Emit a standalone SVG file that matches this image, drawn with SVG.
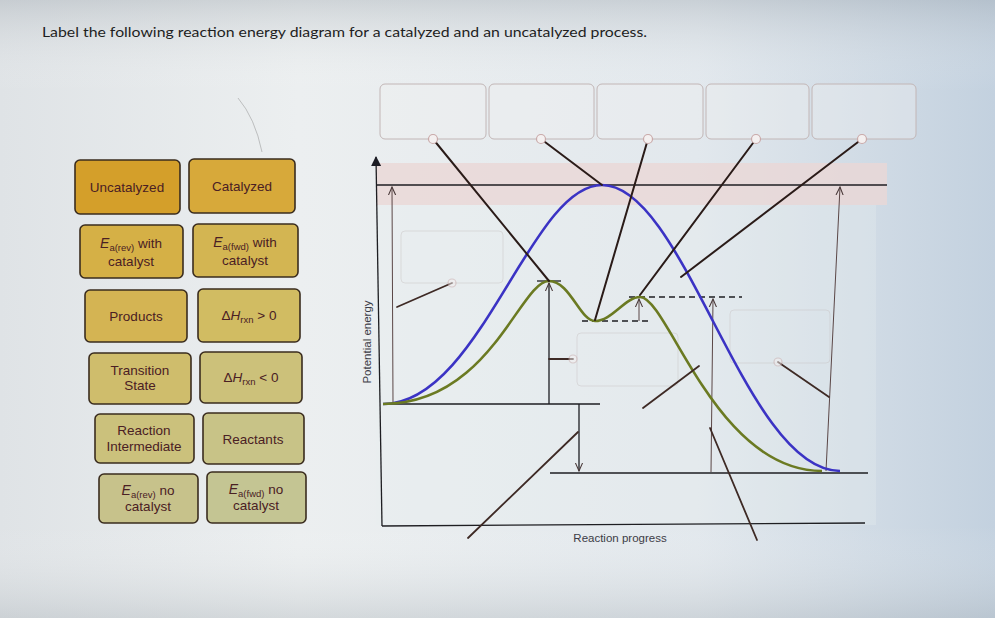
<svg xmlns="http://www.w3.org/2000/svg" width="995" height="618" viewBox="0 0 995 618">
<defs>
<linearGradient id="bg" x1="0" y1="0" x2="1" y2="0">
<stop offset="0" stop-color="#dfe3e6"/>
<stop offset="0.3" stop-color="#eceff0"/>
<stop offset="0.7" stop-color="#e2e8ed"/>
<stop offset="1" stop-color="#c3d1df"/>
</linearGradient>
<linearGradient id="bgv" x1="0" y1="0" x2="0" y2="1">
<stop offset="0" stop-color="#9aa3ab" stop-opacity="0.35"/>
<stop offset="0.15" stop-color="#ffffff" stop-opacity="0"/>
<stop offset="0.85" stop-color="#ffffff" stop-opacity="0"/>
<stop offset="1" stop-color="#a8b0b6" stop-opacity="0.35"/>
</linearGradient>
<marker id="open" viewBox="0 0 10 10" refX="9" refY="5" markerWidth="9" markerHeight="9" markerUnits="userSpaceOnUse" orient="auto">
<path d="M0,1 L9,5 L0,9" fill="none" stroke="#4a3a3a" stroke-width="1.2"/>
</marker>
<marker id="solid" viewBox="0 0 10 10" refX="9" refY="5" markerWidth="14" markerHeight="10" markerUnits="userSpaceOnUse" orient="auto">
<path d="M0,0 L10,5 L0,10 Z" fill="#1c1c24"/>
</marker>
<style>
.tile{stroke:#3a2c1e;stroke-width:1.6}
.tt{font-family:"Liberation Sans",Arial,sans-serif;font-size:13.5px;fill:#4a2024;text-anchor:middle}
.drop{fill:#f2f0f0;fill-opacity:0.35;stroke:#c2b6b6;stroke-width:1}
.faint{fill:none;stroke:#c9c3c3;stroke-width:0.8;stroke-opacity:0.6}
.con{stroke:#2a1b18;stroke-width:2;fill:none;stroke-linecap:round}
.con2{stroke:#3e2a25;stroke-width:1.8;fill:none;stroke-linecap:round}
.dot{fill:#f4f0f0;stroke:#c9a9a9;stroke-width:1.2}
.ln{stroke:#1e1e22;stroke-width:1.3;fill:none}
.thin{stroke:#5a4646;stroke-width:1;fill:none}
.dash{stroke:#1e1e22;stroke-width:1.3;stroke-dasharray:6 4;fill:none}
.lab{font-family:"Liberation Sans",Arial,sans-serif;font-size:11.5px;fill:#3c3c46}
</style>
</defs>
<rect width="995" height="618" fill="url(#bg)"/>
<rect width="995" height="618" fill="url(#bgv)"/>
<path d="M238,98 Q255,118 262,152" fill="none" stroke="#8a8a8a" stroke-width="0.8" stroke-opacity="0.6"/>
<text x="42" y="37" font-family="Lato, 'Open Sans', sans-serif" font-size="14" fill="#1e1e1e" textLength="605" lengthAdjust="spacingAndGlyphs">Label the following reaction energy diagram for a catalyzed and an uncatalyzed process.</text>

<g id="tiles">
<g id="t-uncat"><rect class="tile" x="75" y="160" width="105" height="54" rx="5" fill="#d49f2a"/><text class="tt" x="127" y="192">Uncatalyzed</text></g>
<g id="t-cat"><rect class="tile" x="189" y="159" width="106" height="54" rx="5" fill="#d7a93a"/><text class="tt" x="242" y="191">Catalyzed</text></g>
<g id="t-earevcat"><rect class="tile" x="80" y="225" width="103" height="53" rx="5" fill="#d5b046"/><text class="tt" x="131" y="248"><tspan font-style="italic" font-size="14">E</tspan><tspan font-size="9.5" dy="3">a(rev)</tspan><tspan dy="-3"> with</tspan></text><text class="tt" x="131" y="266">catalyst</text></g>
<g id="t-eafwdcat"><rect class="tile" x="193" y="224" width="105" height="53" rx="5" fill="#d3b552"/><text class="tt" x="245" y="247"><tspan font-style="italic" font-size="14">E</tspan><tspan font-size="9.5" dy="3">a(fwd)</tspan><tspan dy="-3"> with</tspan></text><text class="tt" x="245" y="265">catalyst</text></g>
<g id="t-products"><rect class="tile" x="85" y="290" width="102" height="52" rx="5" fill="#d4b453"/><text class="tt" x="136" y="321">Products</text></g>
<g id="t-dhpos"><rect class="tile" x="198" y="289" width="102" height="53" rx="5" fill="#d1bc62"/><text class="tt" x="249" y="320">Δ<tspan font-style="italic">H</tspan><tspan font-size="9.5" dy="3">rxn</tspan><tspan dy="-3"> &gt; 0</tspan></text></g>
<g id="t-ts"><rect class="tile" x="89" y="353" width="102" height="51" rx="5" fill="#cfbd6c"/><text class="tt" x="140" y="375">Transition</text><text class="tt" x="140" y="390">State</text></g>
<g id="t-dhneg"><rect class="tile" x="200" y="352" width="102" height="51" rx="5" fill="#ccc17a"/><text class="tt" x="251" y="382">Δ<tspan font-style="italic">H</tspan><tspan font-size="9.5" dy="3">rxn</tspan><tspan dy="-3"> &lt; 0</tspan></text></g>
<g id="t-ri"><rect class="tile" x="95" y="414" width="99" height="49" rx="5" fill="#cbc17c"/><text class="tt" x="144" y="435">Reaction</text><text class="tt" x="144" y="451">Intermediate</text></g>
<g id="t-react"><rect class="tile" x="203" y="413" width="101" height="51" rx="5" fill="#c8c387"/><text class="tt" x="253" y="444">Reactants</text></g>
<g id="t-earevno"><rect class="tile" x="99" y="474" width="99" height="49" rx="5" fill="#c7c28b"/><text class="tt" x="148" y="495"><tspan font-style="italic" font-size="14">E</tspan><tspan font-size="9.5" dy="3">a(rev)</tspan><tspan dy="-3"> no</tspan></text><text class="tt" x="148" y="511">catalyst</text></g>
<g id="t-eafwdno"><rect class="tile" x="207" y="472" width="99" height="51" rx="5" fill="#c4c593"/><text class="tt" x="256" y="494"><tspan font-style="italic" font-size="14">E</tspan><tspan font-size="9.5" dy="3">a(fwd)</tspan><tspan dy="-3"> no</tspan></text><text class="tt" x="256" y="510">catalyst</text></g>
</g>

<g id="chart-bg">
<rect x="376" y="163" width="511" height="42" fill="#ead7d6" fill-opacity="0.8"/>
<rect x="376" y="205" width="500" height="320" fill="#e9eef0" fill-opacity="0.3"/>
</g>

<g id="dropzones">
<rect class="drop" x="380" y="84" width="106" height="55" rx="5"/>
<rect class="drop" x="489" y="84" width="105" height="55" rx="5"/>
<rect class="drop" x="597" y="84" width="106" height="55" rx="5"/>
<rect class="drop" x="706" y="84" width="103" height="55" rx="5"/>
<rect class="drop" x="812" y="84" width="104" height="55" rx="5"/>
<rect class="faint" x="401" y="231" width="102" height="52" rx="4"/>
<rect class="faint" x="577" y="333" width="101" height="53" rx="4"/>
<rect class="faint" x="730" y="310" width="100" height="53" rx="4"/>
</g>

<g id="axes">
<path class="ln" d="M382,526 L376,157" marker-end="url(#solid)" stroke-width="1.6"/>
<path class="ln" d="M382,526 L865,523" stroke-width="1.4"/>
<text class="lab" transform="translate(371,342) rotate(-90)" text-anchor="middle">Potential energy</text>
<text class="lab" x="620" y="542" text-anchor="middle">Reaction progress</text>
</g>

<g id="levels">
<path class="ln" d="M376,185 L887,185"/>
<path class="ln" d="M383,404 L600,404"/>
<path class="ln" d="M550,473 L868,473"/>
<path class="ln" d="M537,281 L561,281" stroke-width="1.8"/>
<path class="dash" d="M582,321 L648,321"/>
<path class="dash" d="M629,297 L742,297"/>
</g>

<g id="arrows">
<path class="thin" d="M393,404 L392,187" marker-end="url(#open)"/>
<path class="ln" d="M549,404 L549,283" marker-end="url(#open)"/>
<path class="thin" d="M639,321 L639,299" marker-end="url(#open)"/>
<path class="thin" d="M711,472 L713,299" marker-end="url(#open)" stroke="#8a7a7a"/>
<path class="ln" d="M579,404 L579,471" marker-end="url(#open)"/>
<path class="thin" d="M826,471 L840,187" marker-end="url(#open)"/>
</g>

<g id="curves">
<path d="M383,404 C480,404 530,185 602,185 C685,185 745,471 840,471" fill="none" stroke="#3b33c4" stroke-width="2.6"/>
<path d="M383,404 C490,404 520,281 549,281 C570,281 580,321 595,321 C612,321 625,297 640,297 C668,297 715,471 822,471" fill="none" stroke="#6b7a22" stroke-width="2.6"/>
</g>

<g id="connectors">
<path class="con" d="M433,139 L549,281"/>
<path class="con" d="M541,139 L602,185"/>
<path class="con" d="M648,139 L595,320"/>
<path class="con" d="M756,139 L640,295"/>
<path class="con" d="M862,139 L681,277"/>
<path class="con2" d="M452,283 L397,307"/>
<path class="con2" d="M573,359 L549,359"/>
<path class="con2" d="M643,408 L699,366"/>
<path class="con2" d="M778,362 L829,397"/>
<path class="con2" d="M757,540 L710,428"/>
<path class="con2" d="M468,538 L578,432"/>
<circle class="dot" cx="433" cy="139" r="4.5"/>
<circle class="dot" cx="541" cy="139" r="4.5"/>
<circle class="dot" cx="648" cy="139" r="4.5"/>
<circle class="dot" cx="756" cy="139" r="4.5"/>
<circle class="dot" cx="862" cy="139" r="4.5"/>
<circle class="dot" cx="452" cy="283" r="4" opacity="0.5"/>
<circle class="dot" cx="573" cy="359" r="4" opacity="0.5"/>
<circle class="dot" cx="778" cy="362" r="4" opacity="0.5"/>
</g>
</svg>
